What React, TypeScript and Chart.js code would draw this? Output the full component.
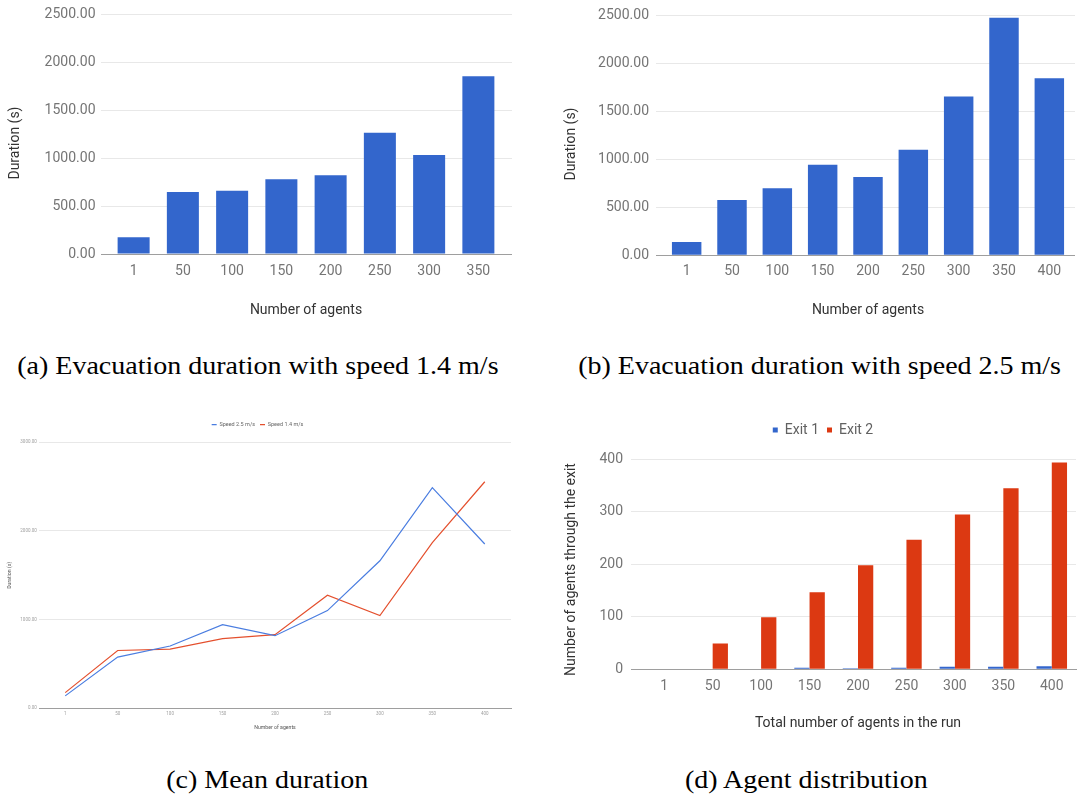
import React, { useEffect, useRef } from 'react';
import { Chart, registerables } from 'chart.js';

Chart.register(...registerables);
Chart.defaults.font.family = 'Roboto';

// ---------- data ----------
const agentsA = ['1', '50', '100', '150', '200', '250', '300', '350'];
const durationA = [174, 648, 662, 780, 822, 1267, 1034, 1856];

const agentsB = ['1', '50', '100', '150', '200', '250', '300', '350', '400'];
const durationB = [138, 577, 698, 944, 816, 1100, 1656, 2476, 1846];

const agentsC = ['1', '50', '100', '150', '200', '250', '300', '350', '400'];
const meanSpeed25 = [140, 577, 703, 943, 819, 1102, 1664, 2488, 1853];
const meanSpeed14 = [177, 652, 668, 785, 830, 1275, 1045, 1868, 2555];

const agentsD = ['1', '50', '100', '150', '200', '250', '300', '350', '400'];
const exit1 = [0, 1, 1, 3, 2, 3, 5, 5, 6];
const exit2 = [1, 49, 99, 147, 198, 247, 295, 345, 394];

const ticksA = [0, 500, 1000, 1500, 2000, 2500];
const ticksC = [0, 1000, 2000, 3000];
const ticksD = [0, 100, 200, 300, 400];

// ---------- styles ----------
const TICK = '#757575';
const TITLE = '#333333';
const GRID = '#e8e8e8';
const BASE = '#9e9e9e';
const BLUE = '#3366cc';
const RED = '#dc3912';
const BLUE_L = '#4a7de0';
const RED_L = '#e4502e';

const lineCol = (ctx: any) => (ctx.tick && ctx.tick.value === 0 ? BASE : GRID);

function yAxis(max: number, step: number, fmt: (v: number) => string, width: number, tickLen: number, pad: number, title: string, titlePad: number, size: number, titleSize: number, titleLH?: number) {
  return {
    position: 'left',
    min: 0,
    max,
    afterFit: (s: any) => { s.width = width; },
    border: { display: false },
    grid: { color: lineCol, tickColor: lineCol, drawTicks: tickLen > 0, tickLength: tickLen, lineWidth: 1 },
    ticks: { stepSize: step, padding: pad, color: size < 8 ? '#a0a0a0' : TICK, font: { size }, callback: (v: any) => fmt(Number(v)) },
    title: { display: true, text: title, color: size < 8 ? '#555' : TITLE, font: { size: titleSize, lineHeight: titleLH ?? 1.2 }, padding: { top: titlePad, bottom: 0 } },
  };
}

function yRight(max: number, step: number, width: number) {
  return {
    position: 'right',
    min: 0,
    max,
    afterFit: (s: any) => { s.width = width; },
    border: { display: false },
    grid: { drawOnChartArea: false, tickColor: lineCol, drawTicks: true, tickLength: width },
    ticks: { display: false, stepSize: step },
  };
}

function xAxis(height: number, pad: number, title: string, titlePadBottom: number, size: number, titleSize: number, offset: boolean) {
  return {
    offset,
    afterFit: (s: any) => { s.height = height; },
    border: { display: true, color: BASE, width: 1 },
    grid: { display: false, drawTicks: false },
    ticks: { padding: pad, color: size < 8 ? '#a0a0a0' : TICK, font: { size }, maxRotation: 0, autoSkip: false },
    title: { display: true, text: title, color: size < 8 ? '#555' : TITLE, font: { size: titleSize }, padding: { top: 0, bottom: titlePadBottom } },
  };
}

function spacer(height: number) {
  return {
    type: 'linear',
    position: 'top',
    afterFit: (s: any) => { s.height = height; },
    border: { display: false },
    grid: { display: false, drawTicks: false },
    ticks: { display: false },
  };
}

const fmt2 = (v: number) => v.toFixed(2);
const fmt0 = (v: number) => String(v);

// ---------- chart configs ----------
const makeA = () => ({
  type: 'bar',
  data: {
    labels: agentsA,
    datasets: [{ label: 'Duration', data: durationA, backgroundColor: BLUE, categoryPercentage: 0.65, barPercentage: 1 }],
  },
  options: {
    animation: false,
    responsive: false,
    layout: { padding: { left: 0, right: 28, top: 14.7, bottom: 0 } },
    plugins: { legend: { display: false }, tooltip: { enabled: false } },
    scales: {
      x: xAxis(76, 9.3, 'Number of agents', 11.6, 14, 14, true),
      y: yAxis(ticksA[ticksA.length - 1], ticksA[1] - ticksA[0], fmt2, 109, 8, 5.5, 'Duration (s)     ', 7.4, 14, 14),
      yR: yRight(ticksA[ticksA.length - 1], ticksA[1] - ticksA[0], 9),
    },
  },
});

const makeB = () => ({
  type: 'bar',
  data: {
    labels: agentsB,
    datasets: [{ label: 'Duration', data: durationB, backgroundColor: BLUE, categoryPercentage: 0.65, barPercentage: 1 }],
  },
  options: {
    animation: false,
    responsive: false,
    layout: { padding: { left: 0, right: 3, top: 14.3, bottom: 0 } },
    plugins: { legend: { display: false }, tooltip: { enabled: false } },
    scales: {
      x: xAxis(74.7, 7.4, 'Number of agents', 11.3, 14, 14, true),
      y: yAxis(ticksA[ticksA.length - 1], ticksA[1] - ticksA[0], fmt2, 116, 8, 7, 'Duration (s)     ', 14.8, 14, 14),
      yR: yRight(ticksA[ticksA.length - 1], ticksA[1] - ticksA[0], 3),
    },
  },
});

const makeC = () => ({
  type: 'line',
  data: {
    labels: agentsC,
    datasets: [
      { label: 'Speed 2.5 m/s', data: meanSpeed25, borderColor: BLUE_L, backgroundColor: BLUE_L, borderWidth: 1.2, pointRadius: 0, tension: 0 },
      { label: 'Speed 1.4 m/s', data: meanSpeed14, borderColor: RED_L, backgroundColor: RED_L, borderWidth: 1.2, pointRadius: 0, tension: 0 },
    ],
  },
  options: {
    animation: false,
    responsive: false,
    layout: { padding: { left: 4, right: 29, top: 1.95, bottom: 0 } },
    plugins: {
      tooltip: { enabled: false },
      legend: {
        display: true,
        position: 'top',
        labels: { usePointStyle: true, pointStyle: 'line', pointStyleWidth: 5, boxHeight: 4, padding: 5, color: '#666', font: { size: 5.5 } },
      },
    },
    scales: {
      x: xAxis(31.7, 3, 'Number of agents', 9.6, 4.5, 5.2, true),
      y: yAxis(ticksC[ticksC.length - 1], ticksC[1] - ticksC[0], fmt2, 35, 0, 2.3, 'Duration (s)', 2.9, 4.5, 5.2),
      xTop: spacer(4.85),
    },
  },
});

const makeD = () => ({
  type: 'bar',
  data: {
    labels: agentsD,
    datasets: [
      { label: 'Exit 1', data: exit1, backgroundColor: BLUE, categoryPercentage: 0.63, barPercentage: 1 },
      { label: 'Exit 2', data: exit2, backgroundColor: RED, categoryPercentage: 0.63, barPercentage: 1 },
    ],
  },
  options: {
    animation: false,
    responsive: false,
    layout: { padding: { left: 10, right: 2, top: 5, bottom: 0 } },
    plugins: {
      tooltip: { enabled: false },
      legend: {
        display: true,
        position: 'top',
        labels: { usePointStyle: true, pointStyle: 'rect', boxWidth: 5, boxHeight: 5, padding: 8, color: '#616161', font: { size: 14 } },
      },
    },
    scales: {
      x: xAxis(70.7, 8.6, 'Total number of agents in the run', 8.3, 14, 14, true),
      y: yAxis(ticksD[ticksD.length - 1], ticksD[1] - ticksD[0], fmt0, 70, 9, 8, 'Number of agents through the exit   ', 0.3, 14, 14, 0.1),
      xTop: spacer(12.3),
    },
  },
});

// ---------- components ----------
function ChartBox({ left, top, width, height, make }: { left: number; top: number; width: number; height: number; make: () => any }) {
  const ref = useRef<HTMLCanvasElement>(null);
  useEffect(() => {
    const chart = new Chart(ref.current as HTMLCanvasElement, make());
    return () => chart.destroy();
  }, []);
  return (
    <canvas
      ref={ref}
      width={width}
      height={height}
      style={{ position: 'absolute', left, top, width, height, display: 'block' }}
    />
  );
}

function Caption({ cx, top, text }: { cx: number; top: number; text: string }) {
  return (
    <div
      style={{
        position: 'absolute',
        left: cx - 300,
        top,
        width: 600,
        textAlign: 'center',
        fontFamily: '"Liberation Serif", "Times New Roman", serif',
        fontSize: 25,
        lineHeight: '25px',
        color: '#000',
        whiteSpace: 'nowrap',
      }}
    >
      <span style={{ display: 'inline-block', transform: 'scaleX(1.12)', transformOrigin: 'center' }}>{text}</span>
    </div>
  );
}

export default function App() {
  return (
    <div style={{ position: 'absolute', left: 0, top: 0, width: 1078, height: 794, background: '#fff', overflow: 'hidden' }}>
      <ChartBox left={0} top={0} width={540} height={330} make={makeA} />
      <ChartBox left={548} top={0} width={530} height={330} make={makeB} />
      <ChartBox left={0} top={415} width={540} height={325} make={makeC} />
      <ChartBox left={560} top={410} width={518} height={330} make={makeD} />
      <Caption cx={258} top={353} text="(a) Evacuation duration with speed 1.4 m/s" />
      <Caption cx={820} top={353} text="(b) Evacuation duration with speed 2.5 m/s" />
      <Caption cx={267} top={767} text="(c) Mean duration" />
      <Caption cx={806} top={767} text="(d) Agent distribution" />
    </div>
  );
}
